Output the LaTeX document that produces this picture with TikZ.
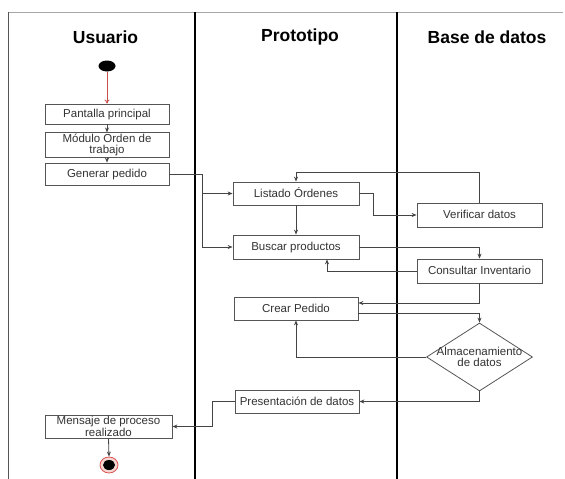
\documentclass[tikz,border=0pt]{standalone}
\usepackage{fontspec}
\setmainfont{Liberation Sans}
\usetikzlibrary{shapes.geometric,arrows.meta}
\definecolor{boxgray}{HTML}{555555}
\definecolor{txtgray}{HTML}{333333}
\definecolor{linegray}{HTML}{444444}
\definecolor{startred}{HTML}{C8504A}
\definecolor{ringred}{HTML}{D9534F}
\definecolor{ringfill}{HTML}{F6D5D3}
\begin{document}
\begin{tikzpicture}[x=1pt,y=-1pt,
  box/.style={draw=boxgray, line width=0.8pt, fill=white, inner sep=1pt,
    font=\fontsize{11.5}{11.5}\selectfont, text=txtgray},
  onel/.style={box, text height=8.4pt, text depth=0.5pt},
  twol/.style={box, align=center},
  head/.style={font=\fontsize{17.5}{18}\selectfont\bfseries, text=black},
  arr/.style={draw=linegray, line width=0.8pt, -{Stealth[length=5pt,width=4pt]}},
  lane/.style={draw=black, line width=1.8pt},
]
\useasboundingbox (0,0) rectangle (565,479);
% frame
\draw[draw=gray!70, line width=1pt] (8,12) -- (563,12);
\draw[draw=boxgray, line width=1pt] (8,12) -- (8,479);
\draw[lane] (195,12) -- (195,479);
\draw[lane] (397,12) -- (397,479);
% headers
\node[head] (hu) at (105.5,37) {Usuario};
\node[head] (hp) at (300,37) {Prototipo};
\node[head] (hb) at (487,37) {Base de datos};
% start
\node[ellipse, fill=black, minimum width=17pt, minimum height=11pt, inner sep=0pt] (start) at (107,66) {};
% boxes
\node[onel, minimum width=124pt, minimum height=20pt] (pant) at (107,114) {Pantalla principal};
\node[twol, minimum width=124pt, minimum height=24pt] (mod) at (107,145) {Módulo Orden de\\trabajo};
\node[onel, minimum width=124pt, minimum height=22pt] (gen) at (107,174) {Generar pedido};
\node[onel, minimum width=126pt, minimum height=23pt] (list) at (296,193.5) {Listado Órdenes};
\node[onel, minimum width=126pt, minimum height=24pt] (bus) at (296,247) {Buscar productos};
\node[onel, minimum width=125pt, minimum height=24pt] (ver) at (479.5,215) {Verificar datos};
\node[onel, minimum width=125pt, minimum height=24pt] (cons) at (479.5,271) {Consultar Inventario};
\node[onel, minimum width=124pt, minimum height=23pt] (crear) at (296,308.5) {Crear Pedido};
\node[diamond, draw=boxgray, line width=0.8pt, fill=white, minimum width=106pt, minimum height=68pt, inner sep=0pt,
  label={[align=center, font=\fontsize{11.5}{11.5}\selectfont, text=txtgray]center:Almacenamiento\\de datos}] (dia) at (479.5,357) {};
\node[onel, minimum width=124pt, minimum height=23pt] (pres) at (297,401.5) {Presentación de datos};
\node[twol, minimum width=127pt, minimum height=23pt] (msg) at (108.5,426.5) {Mensaje de proceso\\realizado};
% end
\node[ellipse, draw=ringred, fill=ringfill, line width=0.8pt, minimum width=18pt, minimum height=16pt, inner sep=0pt] (fin) at (109,465) {};
\node[ellipse, fill=black, minimum width=12pt, minimum height=10pt, inner sep=0pt] (fincore) at (fin.center) {};
% connectors
\draw[draw=startred, line width=0.8pt, -{To[length=4pt,width=5pt]}] (start) -- (pant);
\draw[arr] (pant) -- (mod);
\draw[arr] (mod) -- (gen);
\coordinate (j1) at (202,174);
\draw[draw=linegray, line width=0.8pt] (gen.east) -- (j1);
\draw[arr] (j1) |- (list.west);
\draw[arr] (j1) |- (bus.west);
\draw[arr] (list) -- (bus);
\draw[arr] (list.east) -- ++(14,0) |- (ver.west);
\draw[arr] (ver.north) -- ++(0,-30) -| (list.north);
\draw[arr] (bus.east) -| (cons.north);
\draw[arr] (cons.west) -| ([xshift=31pt]bus.south);
\draw[arr] (cons.south) |- ([yshift=5.5pt]crear.east);
\draw[arr] ([yshift=-4.5pt]crear.east) -| (dia.north);
\draw[arr] (dia.west) -| (crear.south);
\draw[arr] (dia.south) |- (pres.east);
\draw[arr] (pres.west) -- ++(-22,0) |- (msg.east);
\draw[arr] (msg.south) -- (fin.north);
\end{tikzpicture}
\end{document}
